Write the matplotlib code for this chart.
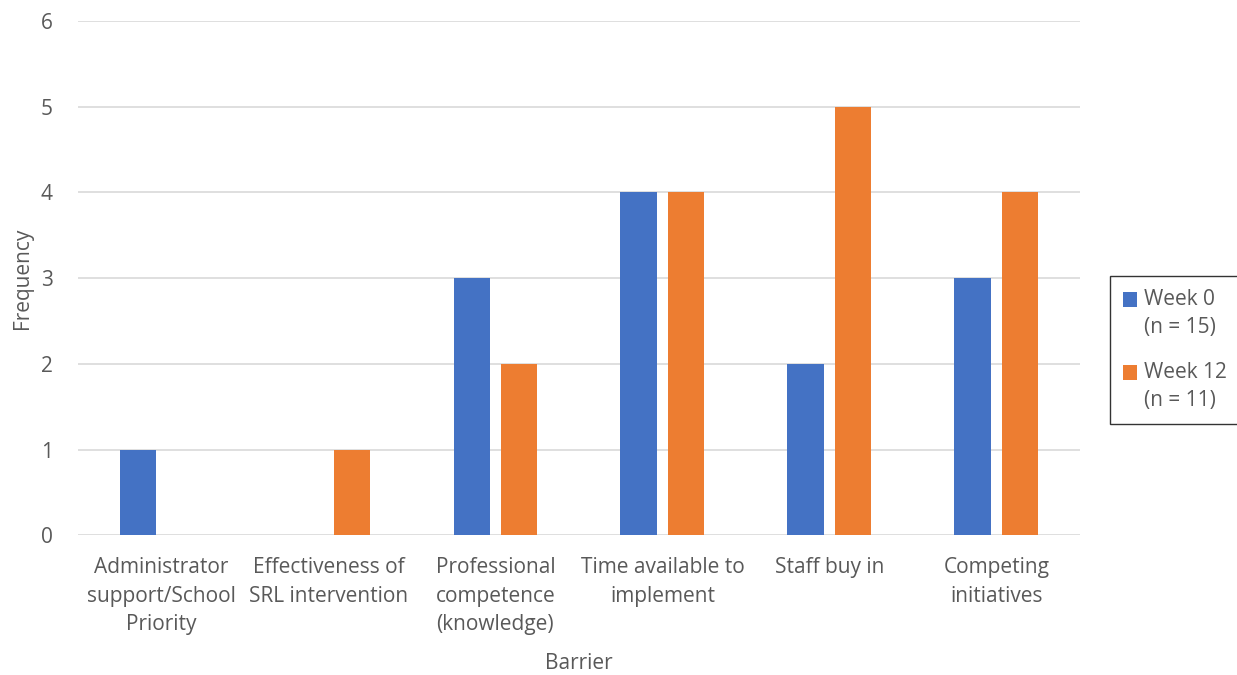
import matplotlib.pyplot as plt
from matplotlib.patches import Rectangle
from matplotlib.legend_handler import HandlerPatch
import numpy as np

plt.rcParams['font.family'] = ['Open Sans', 'DejaVu Sans']

categories = ["Administrator\nsupport/School\nPriority",
              "Effectiveness of\nSRL intervention",
              "Professional\ncompetence\n(knowledge)",
              "Time available to\nimplement",
              "Staff buy in",
              "Competing\ninitiatives"]
week0 = [1, 0, 3, 4, 2, 3]
week12 = [0, 1, 2, 4, 5, 4]
series_labels = ["Week 0\n(n = 15)", "Week 12\n(n = 11)"]
yticks = [0, 1, 2, 3, 4, 5, 6]

text_color = "#595959"
fs = 15
fig = plt.figure(figsize=(12.37, 6.75), dpi=100)
ax = fig.add_axes([0.063, 0.207, 0.81, 0.762])

x = np.arange(len(categories))
w = 0.22
b0 = ax.bar(x - 0.141, week0, w, color="#4472C4", label=series_labels[0], zorder=3)
b1 = ax.bar(x + 0.141, week12, w, color="#ED7D31", label=series_labels[1], zorder=3)

ax.set_xlim(-0.5, len(categories) - 0.5)
ax.set_ylim(0, 6)
ax.set_yticks(yticks)
ax.yaxis.grid(True, color="#d9d9d9", linewidth=1.2, zorder=0)
for s in ax.spines.values():
    s.set_visible(False)
ax.tick_params(axis='both', length=0, colors=text_color, labelsize=fs)
ax.tick_params(axis='y', pad=18)
ax.tick_params(axis='x', pad=16)
ax.set_xticks(x)
ax.set_xticklabels(categories, linespacing=1.45)
ax.set_xlabel("Barrier", fontsize=fs, color=text_color)
ax.xaxis.set_label_coords(0.5, -0.228)
ax.set_ylabel("Frequency", fontsize=fs, color=text_color, labelpad=6)


def top_line_square(legend, orig_handle, xdescent, ydescent, width, height, fontsize):
    # align the legend swatch with the first line of a two-line label
    return Rectangle((-xdescent, -ydescent + 0.7 * fontsize), width, height)


h0 = b0.patches[0]
h1 = b1.patches[0]
square = HandlerPatch(patch_func=top_line_square)
leg = fig.legend(handles=[h0, h1], labels=series_labels, loc='center left',
                 bbox_to_anchor=(0.8975, 0.4815), borderaxespad=0, fontsize=fs,
                 frameon=True, fancybox=False, edgecolor="black",
                 handlelength=0.7, handleheight=0.7, handletextpad=0.3,
                 labelspacing=1.15, borderpad=0.6, labelcolor=text_color,
                 handler_map={h0: square, h1: square})
leg.get_frame().set_linewidth(1.0)
for t in leg.get_texts():
    t.set_linespacing(1.45)

fig.savefig("out.png", dpi=100)
